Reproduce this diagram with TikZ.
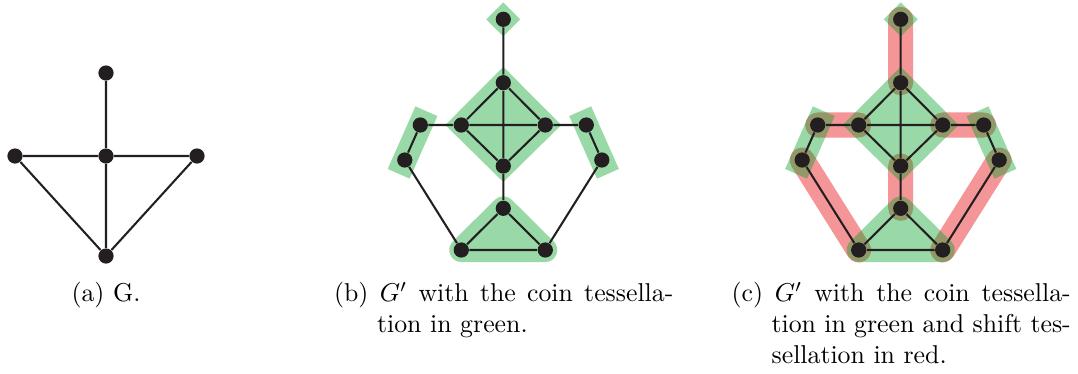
\documentclass[tikz,border=0pt]{standalone}
\usetikzlibrary{backgrounds,calc}
\definecolor{ink}{RGB}{35,31,32}
\definecolor{coinc}{RGB}{0,160,35}
\definecolor{shiftc}{RGB}{230,20,25}
\tikzset{
  vtx/.style={circle,fill=ink,inner sep=0pt,minimum size=5.9pt},
  edgeline/.style={draw=ink,line width=0.8pt},
  coinband/.style={draw=coinc,line width=9.3pt},
  shiftband/.style={draw=shiftc,line width=9.7pt,line cap=round},
  caption/.style={inner sep=0pt,font=\normalsize},
}
\newcommand\gprimegraph[2]{%
  \begin{scope}[shift={(#2,0)}]
    \node[vtx] (#1T) at (0,19.3) {};
    \node[vtx] (#1U) at (0,82.7) {};
    \node[vtx] (#1Li) at (-42,125) {};
    \node[vtx] (#1Ri) at (42,125) {};
    \node[vtx] (#1M) at (0,166) {};
    \node[vtx] (#1ul) at (-83,125) {};
    \node[vtx] (#1ll) at (-98.5,160) {};
    \node[vtx] (#1ur) at (83,125) {};
    \node[vtx] (#1lr) at (98.5,160) {};
    \node[vtx] (#1LT) at (0,208.3) {};
    \node[vtx] (#1BL) at (-42,250) {};
    \node[vtx] (#1BR) at (42,250) {};
  \end{scope}
  \draw[edgeline] (#1T)--(#1U) (#1U)--(#1Li) (#1U)--(#1Ri) (#1U)--(#1M)
    (#1Li)--(#1Ri) (#1Li)--(#1M) (#1Ri)--(#1M) (#1ul)--(#1Li) (#1Ri)--(#1ur)
    (#1ul)--(#1ll) (#1ur)--(#1lr) (#1ll)--(#1BL) (#1lr)--(#1BR) (#1M)--(#1LT)
    (#1LT)--(#1BL) (#1LT)--(#1BR) (#1BL)--(#1BR);
}
\newcommand\coinparts[1]{%
  \begin{scope}[transparency group,opacity=0.4]
    \fill[coinc] ($(#1T.center)+(0,-17)$) -- ($(#1T.center)+(17,0)$) -- ($(#1T.center)+(0,17)$) -- ($(#1T.center)+(-17,0)$) -- cycle;
    \fill[coinc] ($(#1U.center)+(0,-16)$) -- ($(#1Ri.center)+(16,0)$) -- ($(#1M.center)+(0,16)$) -- ($(#1Li.center)+(-16,0)$) -- cycle;
    \draw[coinband,line cap=rect,shorten <=-1.2pt,shorten >=-1.2pt] (#1ul.center) -- (#1ll.center);
    \draw[coinband,line cap=rect,shorten <=-1.2pt,shorten >=-1.2pt] (#1ur.center) -- (#1lr.center);
    \filldraw[coinband,fill=coinc,line join=round] (#1LT.center) -- (#1BL.center) -- (#1BR.center) -- cycle;
  \end{scope}}
\newcommand\shiftparts[1]{%
  \begin{scope}[transparency group,opacity=0.45]
    \draw[shiftband] (#1T.center)--(#1U.center) (#1ul.center)--(#1Li.center)
      (#1Ri.center)--(#1ur.center) (#1ll.center)--(#1BL.center)
      (#1lr.center)--(#1BR.center) (#1M.center)--(#1LT.center);
  \end{scope}}
\newcommand\capfmt[2]{\setbox0=\hbox{#1\ }\hangindent=\wd0 \hangafter=1 \noindent#1\ #2}
\begin{document}
\begin{tikzpicture}[x=0.3876pt,y=-0.3876pt]
  \useasboundingbox (0,0) rectangle (1078,373);
  % (a) G
  \node[vtx] (aT) at (106,73) {};
  \node[vtx] (aL) at (15,156) {};
  \node[vtx] (aC) at (106,156) {};
  \node[vtx] (aR) at (197,156) {};
  \node[vtx] (aB) at (106,256) {};
  \draw[edgeline] (aT)--(aC) (aL)--(aC) (aC)--(aR) (aL)--(aB) (aC)--(aB) (aR)--(aB);
  \node[caption,anchor=base] (capa) at (106,301.7) {(a) G.};
  % (b)
  \gprimegraph{b}{503.3}
  \begin{pgfonlayer}{background}
    \coinparts{b}
  \end{pgfonlayer}
  \node[caption,anchor=base west] (capb) at (333.6,301.7)
    {\parbox[t]{131.5pt}{\capfmt{(b)}{$G'$ with the coin tessella-\linebreak tion in green.}}};
  % (c)
  \gprimegraph{c}{900.7}
  \begin{pgfonlayer}{background}
    \shiftparts{c}
    \coinparts{c}
  \end{pgfonlayer}
  \node[caption,anchor=base west] (capc) at (731,301.7)
    {\parbox[t]{131.5pt}{\capfmt{(c)}{$G'$ with the coin tessella-\linebreak tion in green and shift tes-\linebreak sellation in red.}}};
\end{tikzpicture}
\end{document}
